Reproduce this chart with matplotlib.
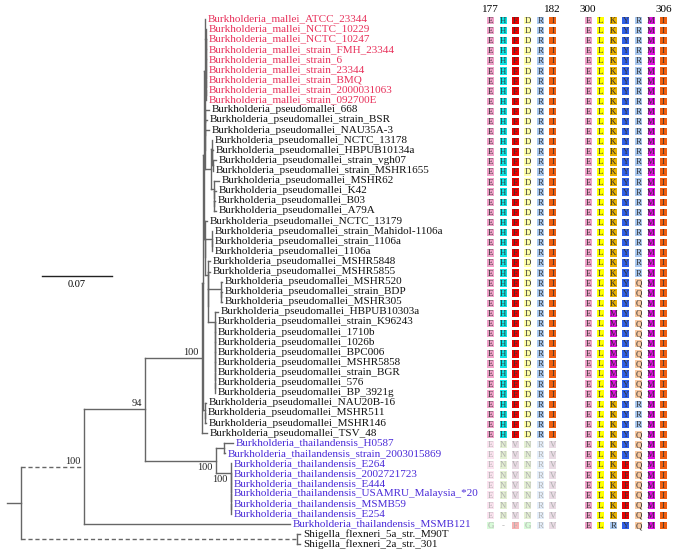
import re
import matplotlib.pyplot as plt
from matplotlib.patches import Rectangle

plt.rcParams['font.family'] = ['Liberation Serif', 'DejaVu Serif']

# tree (branch lengths = substitutions per site), dashed branches were shortened in the figure
NEWICK = (
    "((((((("
    "(Burkholderia_mallei_ATCC_23344:0,(Burkholderia_mallei_NCTC_10229:0,(Burkholderia_mallei_NCTC_10247:0,"
    "(Burkholderia_mallei_strain_FMH_23344:0,(Burkholderia_mallei_strain_6:0,(Burkholderia_mallei_strain_23344:0,"
    "(Burkholderia_mallei_strain_BMQ:0,(Burkholderia_mallei_strain_2000031063:0,"
    "Burkholderia_mallei_strain_092700E:0):0):0):0):0):0):0):0.001,"
    "(Burkholderia_pseudomallei_668:0.004,(Burkholderia_pseudomallei_strain_BSR:0.002,"
    "(Burkholderia_pseudomallei_NAU35A-3:0.004,"
    "((Burkholderia_pseudomallei_NCTC_13178:0,(Burkholderia_pseudomallei_HBPUB10134a:0.001,"
    "(Burkholderia_pseudomallei_strain_vgh07:0.003,Burkholderia_pseudomallei_strain_MSHR1655:0):0.001):0):0.001,"
    "(Burkholderia_pseudomallei_MSHR62:0.005,(Burkholderia_pseudomallei_K42:0.002,"
    "(Burkholderia_pseudomallei_B03:0.001,Burkholderia_pseudomallei_A79A:0.002):0):0):0.003):0.006"
    "):0):0):0):0.001,"
    "(Burkholderia_pseudomallei_NCTC_13179:0.002,"
    "((Burkholderia_pseudomallei_strain_Mahidol-1106a:0,(Burkholderia_pseudomallei_strain_1106a:0,"
    "Burkholderia_pseudomallei_1106a:0):0):0.007,"
    "(Burkholderia_pseudomallei_MSHR5848:0.002,(Burkholderia_pseudomallei_MSHR5855:0.002,"
    "((Burkholderia_pseudomallei_MSHR520:0.001,(Burkholderia_pseudomallei_strain_BDP:0.001,"
    "Burkholderia_pseudomallei_MSHR305:0.001):0):0.013,"
    "(Burkholderia_pseudomallei_HBPUB10303a:0.003,(Burkholderia_pseudomallei_strain_K96243:0,"
    "(Burkholderia_pseudomallei_1710b:0,(Burkholderia_pseudomallei_1026b:0,(Burkholderia_pseudomallei_BPC006:0,"
    "(Burkholderia_pseudomallei_MSHR5858:0,(Burkholderia_pseudomallei_strain_BGR:0,"
    "(Burkholderia_pseudomallei_576:0,Burkholderia_pseudomallei_BP_3921g:0):0):0):0):0):0):0):0):0.007"
    "):0):0):0.003):0):0.001"
    "):0.001,"
    "(Burkholderia_pseudomallei_NAU20B-16:0.001,(Burkholderia_pseudomallei_MSHR511:0,"
    "Burkholderia_pseudomallei_MSHR146:0.001):0):0.002):0.001,"
    "Burkholderia_pseudomallei_TSV_48:0.005)C:0.057,"
    "((Burkholderia_thailandensis_H0587:0.009,Burkholderia_thailandensis_strain_2003015869:0.001):0.008,"
    "(Burkholderia_thailandensis_E264:0,(Burkholderia_thailandensis_2002721723:0,"
    "(Burkholderia_thailandensis_E444:0,(Burkholderia_thailandensis_USAMRU_Malaysia_*20:0,"
    "(Burkholderia_thailandensis_MSMB59:0,Burkholderia_thailandensis_E254:0):0):0):0):0)T2:0.015)T:0.071)B:0.061,"
    "Burkholderia_thailandensis_MSMB121:0.206)A:0.063,"
    "(Shigella_flexneri_5a_str._M90T:0.003,Shigella_flexneri_2a_str._301:0.003)SH:0.276):0.014;"
)
SUPPORT = {'A': 100, 'B': 94, 'C': 100, 'T': 100, 'T2': 100}
DASHED = ['A', 'SH']
SCALE_BAR = 0.07

# alignment, one string per Burkholderia leaf (tree order)
SITES_LEFT = ['177', '182']
SITES_RIGHT = ['300', '306']
ALN_LEFT = ['EHFDRI'] * 42 + ['ENVNRV'] * 8 + ['G-FGRV']
ALN_RIGHT = (['ELKYRMI'] * 26 + ['ELKYQMI'] * 3 + ['ELMYQMI'] * 9 + ['ELKYRMI'] * 3
             + ['ELKYQMI'] * 3 + ['ELKFQMI'] * 6 + ['ELRYQMI'])

AA_COLORS = {
    'E': '#f0a0c8', 'H': '#10e4e4', 'F': '#e80000', 'D': '#ffffa8', 'R': '#a8c8f0',
    'I': '#f06010', 'L': '#ffff00', 'K': '#e8b000', 'Y': '#3060e8', 'M': '#e010e0',
    'Q': '#f8c8a0', 'N': '#a8d070', 'V': '#b888a8', 'G': '#80f080', '-': '#ffffff',
}

PX = 1000.0      # pixels per substitution
X_START = 7
Y0, DY = 19, 10.1
LINE_C = '#666666'


def parse_newick(s):
    pos = 0

    def node():
        nonlocal pos
        kids = []
        if s[pos] == '(':
            pos += 1
            kids.append(node())
            while s[pos] == ',':
                pos += 1
                kids.append(node())
            pos += 1
        m = re.match(r"([^:,();]*)(?::([\d.]+))?", s[pos:])
        pos += m.end()
        return {'name': m.group(1), 'len': float(m.group(2) or 0), 'kids': kids}

    return node()


leaves = []


def layout(n, x0):
    n['x0'] = x0
    n['x'] = x0 + n['len'] * PX
    if n['kids']:
        for k in n['kids']:
            layout(k, n['x'])
        n['y'] = (n['kids'][0]['y'] + n['kids'][-1]['y']) / 2
    else:
        n['y'] = Y0 + len(leaves) * DY
        leaves.append(n)


def draw(ax, n):
    ls = (0, (3, 2)) if n['name'] in DASHED else '-'
    ax.plot([n['x0'], n['x']], [n['y'], n['y']], color=LINE_C, lw=1.0, ls=ls)
    if n['kids']:
        ax.plot([n['x'], n['x']], [n['kids'][0]['y'], n['kids'][-1]['y']], color=LINE_C, lw=1.0)
        for k in n['kids']:
            draw(ax, k)
        if n['name'] in SUPPORT:
            below = n['name'] in ('T', 'T2')
            ax.text(n['x'] - 3, n['y'] + (2 if below else -1), str(SUPPORT[n['name']]),
                    ha='right', va='top' if below else 'bottom', fontsize=7.5, color='#222222')
    else:
        if 'mallei_' in n['name'] and 'pseudo' not in n['name']:
            c = '#e8305a'
        elif 'thailandensis' in n['name']:
            c = '#4a2bd8'
        else:
            c = '#111111'
        ax.text(n['x'] + 3, n['y'], n['name'], ha='left', va='center', fontsize=8, color=c)


tree = parse_newick(NEWICK)
layout(tree, X_START)

fig = plt.figure(figsize=(6.81, 5.57), dpi=100)
ax = fig.add_axes([0, 0, 1, 1])
ax.set_xlim(0, 681)
ax.set_ylim(557, 0)
ax.axis('off')

draw(ax, tree)

# scale bar
ax.plot([42, 42 + SCALE_BAR * PX], [276, 276], color='#222222', lw=1.0)
ax.text(42 + SCALE_BAR * PX / 2, 280, f'{SCALE_BAR}', ha='center', va='top', fontsize=7.5)

# alignment blocks
left_x = [490.7 + 12.4 * i for i in range(6)]
right_x = [588 + 12.6 * i for i in range(7)]
cw, ch = 7, 7.5
for i, leaf in enumerate(leaves[:len(ALN_LEFT)]):
    y = leaf['y'] + 1.5
    faded = 'thailandensis' in leaf['name']
    for xs, seq, fade in ((left_x, ALN_LEFT[i], faded), (right_x, ALN_RIGHT[i], False)):
        for x, aa in zip(xs, seq):
            ax.add_patch(Rectangle((x - cw / 2, y - ch / 2), cw, ch, facecolor=AA_COLORS[aa],
                                   edgecolor='none', alpha=0.3 if fade else 1.0))
            ax.text(x, y + 0.5, aa, ha='center', va='center', fontsize=6.3,
                    color='#b0b0b0' if fade else '#333333')

ax.text(left_x[0], 10, SITES_LEFT[0], ha='center', va='center', fontsize=8)
ax.text(left_x[-1], 10, SITES_LEFT[1], ha='center', va='center', fontsize=8)
ax.text(right_x[0], 10, SITES_RIGHT[0], ha='center', va='center', fontsize=8)
ax.text(right_x[-1], 10, SITES_RIGHT[1], ha='center', va='center', fontsize=8)

fig.savefig('out.png', dpi=100)
